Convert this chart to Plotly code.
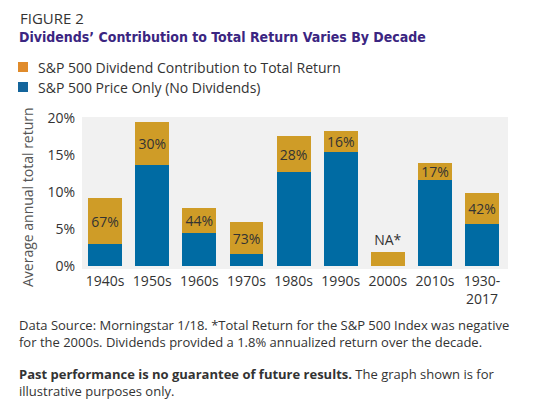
import plotly.graph_objects as go

categories = ["1940s", "1950s", "1960s", "1970s", "1980s", "1990s", "2000s", "2010s", "1930-<br>2017"]
price_only = [2.9, 13.6, 4.4, 1.6, 12.7, 15.4, 0.0, 11.6, 5.6]
dividend = [6.3, 5.9, 3.4, 4.3, 4.9, 2.9, 1.8, 2.4, 4.2]
div_labels = ["67%", "30%", "44%", "73%", "28%", "16%", "NA*", "17%", "42%"]
div_label_pos = ["inside"] * 6 + ["outside"] + ["inside"] * 2
y_ticks = [0, 5, 10, 15, 20]

W, H = 552, 404
ML, MR, MT, MB = 82, 44, 117, 135
PW, PH = W - ML - MR, H - MT - MB


def px(x):
    return (x - ML) / PW


def py(y):
    return (H - MB - y) / PH


FONT = "Open Sans"
BLUE = "#006ba3"
GOLD = "#cf9c27"

fig = go.Figure()
fig.add_trace(go.Bar(
    x=list(range(len(categories))), y=price_only, marker=dict(color=BLUE, line=dict(width=0)),
    width=0.72, name="S&P 500 Price Only (No Dividends)", showlegend=False, hoverinfo="skip",
))
fig.add_trace(go.Bar(
    x=list(range(len(categories))), y=dividend, marker=dict(color=GOLD, line=dict(width=0)),
    width=0.72, name="S&P 500 Dividend Contribution to Total Return", showlegend=False,
    text=div_labels, textposition=div_label_pos, insidetextanchor="middle",
    textfont=dict(family=FONT, size=14, color="#333333"), cliponaxis=False,
    hoverinfo="skip",
))

fig.update_layout(
    width=W, height=H, barmode="stack",
    margin=dict(l=ML, r=MR, t=MT, b=MB, pad=0),
    paper_bgcolor="white", plot_bgcolor="#f1f1f1",
    font=dict(family=FONT, size=14, color="#333333"),
    uniformtext=dict(minsize=14, mode="show"),
    xaxis=dict(
        tickmode="array", tickvals=list(range(len(categories))), ticktext=categories,
        range=[-0.49, 8.55], showgrid=False, zeroline=False, showline=False,
        ticks="", ticklabelstandoff=2, tickfont=dict(size=14, color="#333333"),
    ),
    yaxis=dict(
        range=[-0.45, 20.18], tickvals=y_ticks, ticktext=[f"{t}%" for t in y_ticks],
        showgrid=False, zeroline=False, showline=False, ticks="",
        ticklabelstandoff=6, tickfont=dict(size=14, color="#333333"),
    ),
)

ann = []
ann.append(dict(x=px(18), y=py(18), xref="paper", yref="paper", xanchor="left", yanchor="middle",
                text="FIGURE 2", showarrow=False, font=dict(family=FONT, size=15, color="#333333")))
ann.append(dict(x=px(17), y=py(37), xref="paper", yref="paper", xanchor="left", yanchor="middle",
                text="<b>Dividends’ Contribution to Total Return Varies By Decade</b>", showarrow=False,
                font=dict(family="DejaVu Sans Condensed, Liberation Sans Narrow, sans-serif", size=14,
                          color="#3b2581")))
legend_items = [("S&P 500 Dividend Contribution to Total Return", "#e08b2b", 67),
                ("S&P 500 Price Only (No Dividends)", "#14659c", 87)]
shapes = []
for label, col, yc in legend_items:
    shapes.append(dict(type="rect", xref="paper", yref="paper", x0=px(18), x1=px(28),
                       y0=py(yc + 5), y1=py(yc - 5), fillcolor=col, line=dict(width=0)))
    ann.append(dict(x=px(36), y=py(yc), xref="paper", yref="paper", xanchor="left", yanchor="middle",
                    text=label, showarrow=False, font=dict(family=FONT, size=14, color="#333333")))
ann.append(dict(x=px(27), y=py(197), xref="paper", yref="paper", xanchor="center", yanchor="middle",
                text="Average annual total return", textangle=-90, showarrow=False,
                font=dict(family=FONT, size=14, color="#555555")))
ann.append(dict(x=px(17), y=py(314), xref="paper", yref="paper", xanchor="left", yanchor="top", align="left",
                text="Data Source: Morningstar 1/18. *Total Return for the S&P 500 Index was negative<br>"
                     "for the 2000s. Dividends provided a 1.8% annualized return over the decade.",
                showarrow=False, font=dict(family=FONT, size=13, color="#333333")))
ann.append(dict(x=px(17), y=py(363), xref="paper", yref="paper", xanchor="left", yanchor="top", align="left",
                text="<b>Past performance is no guarantee of future results.</b> The graph shown is for<br>"
                     "illustrative purposes only.",
                showarrow=False, font=dict(family=FONT, size=13, color="#333333")))
fig.update_layout(annotations=ann, shapes=shapes)

fig.write_html("out.html")
